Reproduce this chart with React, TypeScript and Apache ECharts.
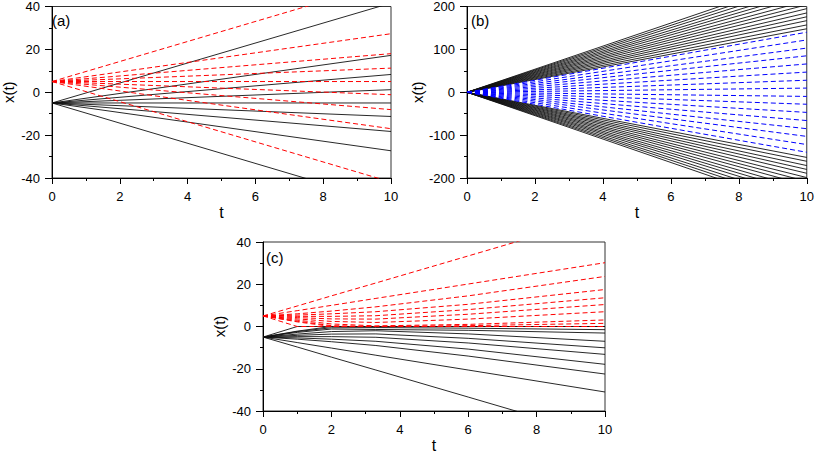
import React, { useEffect, useRef } from "react";
import * as echarts from "echarts";

// ---- data ----
// panels (a) and (b): straight trajectories sampled at t = 0 and t = 10
const tAB = [0, 10];
const redStartA = 5;
const redEndA = [51.7, 27.3, 18, 11.25, 5, -1.15, -8.1, -17, -41.9];
const blackStartA = -5;
const blackEndA = [41.6, 17.2, 8.3, 1.2, -5, -11.3, -18.3, -27.3, -52];

const blueStartB = 0;
const blueEndB = [140, 122, 103, 85, 66, 47, 28, 9.7, -9.7, -28, -47, -66, -85, -103, -122, -140];
const blackStartB = 0;
const blackEndB = [
  148, 157, 167, 176, 185, 195, 204, 213, 223, 232, 241, 251, 260, 269,
  -152, -161, -171, -180, -189, -199, -208, -217, -227, -236, -245, -255, -264, -273,
];

// panel (c): trajectories sampled at these times
const tC = [0, 1, 2, 3.3, 6, 10];
const redC = [
  [5, 9.7, 14.5, 20.6, 33.4, 52.4],
  [5, 7.5, 10, 13.3, 20.1, 30.2],
  [5, 6, 7.3, 9.3, 14.5, 23.7],
  [5, 5.4, 6, 7, 10.5, 17.5],
  [5, 4.8, 4.8, 5.1, 8, 13.6],
  [5, 4.2, 3.6, 3.5, 5.8, 10.4],
  [5, 3.6, 2.4, 1.9, 3.5, 7],
  [5, 3, 1.2, 0.3, 1, 3.1],
  [5, 2.5, 0.4, 0, 0.4, 1.5],
  [5, 2.2, 0, 0, 0, 0],
  [5, 0, 0, 0, 0, 0],
];
const blackC = [
  [-5, -9.7, -14.5, -20.6, -33.4, -52.4],
  [-5, -7.6, -10.2, -13.6, -20.6, -31],
  [-5, -6, -7.2, -9, -14, -22.5],
  [-5, -5.4, -6, -7, -10.7, -17.9],
  [-5, -4.8, -4.8, -5.1, -7.8, -13.2],
  [-5, -4.2, -3.6, -3.5, -5.6, -10.1],
  [-5, -3.6, -2.4, -2, -3.5, -7],
  [-5, -2.8, -1.2, -1.4, -1.8, -3.1],
  [-5, -2.4, -0.6, -0.5, -0.8, -1.5],
  [-5, -2.2, 0, 0, 0, 0],
  [-5, 0, 0, 0, 0, 0],
];

const xTicks = { min: 0, max: 10, interval: 2 };
const yTicksAC = { min: -40, max: 40, interval: 20 };
const yTicksB = { min: -200, max: 200, interval: 100 };
const panelLabels = ["(a)", "(b)", "(c)"];

const FONT = "'Liberation Sans', Arial, Helvetica, sans-serif";

function lineSeries(gridIndex: number, ts: number[], rows: number[][], color: string, dashed: boolean) {
  return rows.map((row) => ({
    type: "line",
    xAxisIndex: gridIndex,
    yAxisIndex: gridIndex,
    data: ts.map((t, i) => [t, row[i]]),
    showSymbol: false,
    symbol: "none",
    clip: true,
    silent: true,
    lineStyle: {
      color,
      width: dashed ? 1 : 0.9,
      type: dashed ? [5, 3] : "solid",
    },
    z: dashed ? 3 : 2,
  }));
}

function xAxis(gridIndex: number) {
  return {
    type: "value",
    gridIndex,
    ...xTicks,
    name: "t",
    nameLocation: "middle",
    nameGap: 26,
    nameTextStyle: { fontSize: 16, color: "#000", fontFamily: FONT },
    axisLine: { show: true, onZero: false, lineStyle: { color: "#000", width: 1 } },
    axisTick: { show: true, inside: false, length: 6, lineStyle: { color: "#000" } },
    minorTick: { show: true, splitNumber: 2, length: 3, lineStyle: { color: "#000" } },
    splitLine: { show: false },
    axisLabel: { fontSize: 13, color: "#000", fontFamily: FONT, margin: 12 },
  };
}

function yAxis(gridIndex: number, ticks: { min: number; max: number; interval: number }) {
  return {
    type: "value",
    gridIndex,
    ...ticks,
    name: "x(t)",
    nameLocation: "middle",
    nameGap: 36,
    nameTextStyle: { fontSize: 15, color: "#000", fontFamily: FONT },
    axisLine: { show: true, onZero: false, lineStyle: { color: "#000", width: 1 } },
    axisTick: { show: true, inside: false, length: 7, lineStyle: { color: "#000" } },
    minorTick: { show: true, splitNumber: 2, length: 3, lineStyle: { color: "#000" } },
    splitLine: { show: false },
    axisLabel: { fontSize: 13, color: "#000", fontFamily: FONT, margin: 12 },
  };
}

export default function App() {
  const ref = useRef<HTMLDivElement>(null);
  useEffect(() => {
    if (!ref.current) return;
    const chart = echarts.init(ref.current, null, { renderer: "svg" });
    const grids = [
      { left: 48, top: 6, width: 343, height: 172 },
      { left: 467, top: 6, width: 344, height: 172 },
      { left: 263, top: 242, width: 342, height: 172 },
    ];
    const labelPos = [
      [52, 13],
      [471, 13],
      [266, 250],
    ];
    const redA = redEndA.map((e) => [redStartA, e]);
    const blkA = blackEndA.map((e) => [blackStartA, e]);
    const blueB = blueEndB.map((e) => [blueStartB, e]);
    const blkB = blackEndB.map((e) => [blackStartB, e]);
    const option = {
      animation: false,
      backgroundColor: "#fff",
      textStyle: { fontFamily: FONT },
      grid: grids.map((g) => ({
        ...g,
        show: true,
        borderColor: "#333",
        borderWidth: 1,
        backgroundColor: "transparent",
        containLabel: false,
      })),
      xAxis: [xAxis(0), xAxis(1), xAxis(2)],
      yAxis: [yAxis(0, yTicksAC), yAxis(1, yTicksB), yAxis(2, yTicksAC)],
      series: [
        ...lineSeries(0, tAB, blkA, "#111", false),
        ...lineSeries(0, tAB, redA, "#ff0000", true),
        ...lineSeries(1, tAB, blkB, "#111", false),
        ...lineSeries(1, tAB, blueB, "#0000ff", true),
        ...lineSeries(2, tC, blackC, "#111", false),
        ...lineSeries(2, tC, redC, "#ff0000", true),
      ],
      graphic: panelLabels.map((txt, i) => ({
        type: "text",
        left: labelPos[i][0],
        top: labelPos[i][1],
        z: 10,
        style: { text: txt, fontSize: 15, fill: "#000", fontFamily: FONT },
      })),
    };
    chart.setOption(option as any);
    return () => chart.dispose();
  }, []);
  return (
    <div
      ref={ref}
      style={{ position: "absolute", left: 0, top: 0, width: 817, height: 454, background: "#fff" }}
    />
  );
}
